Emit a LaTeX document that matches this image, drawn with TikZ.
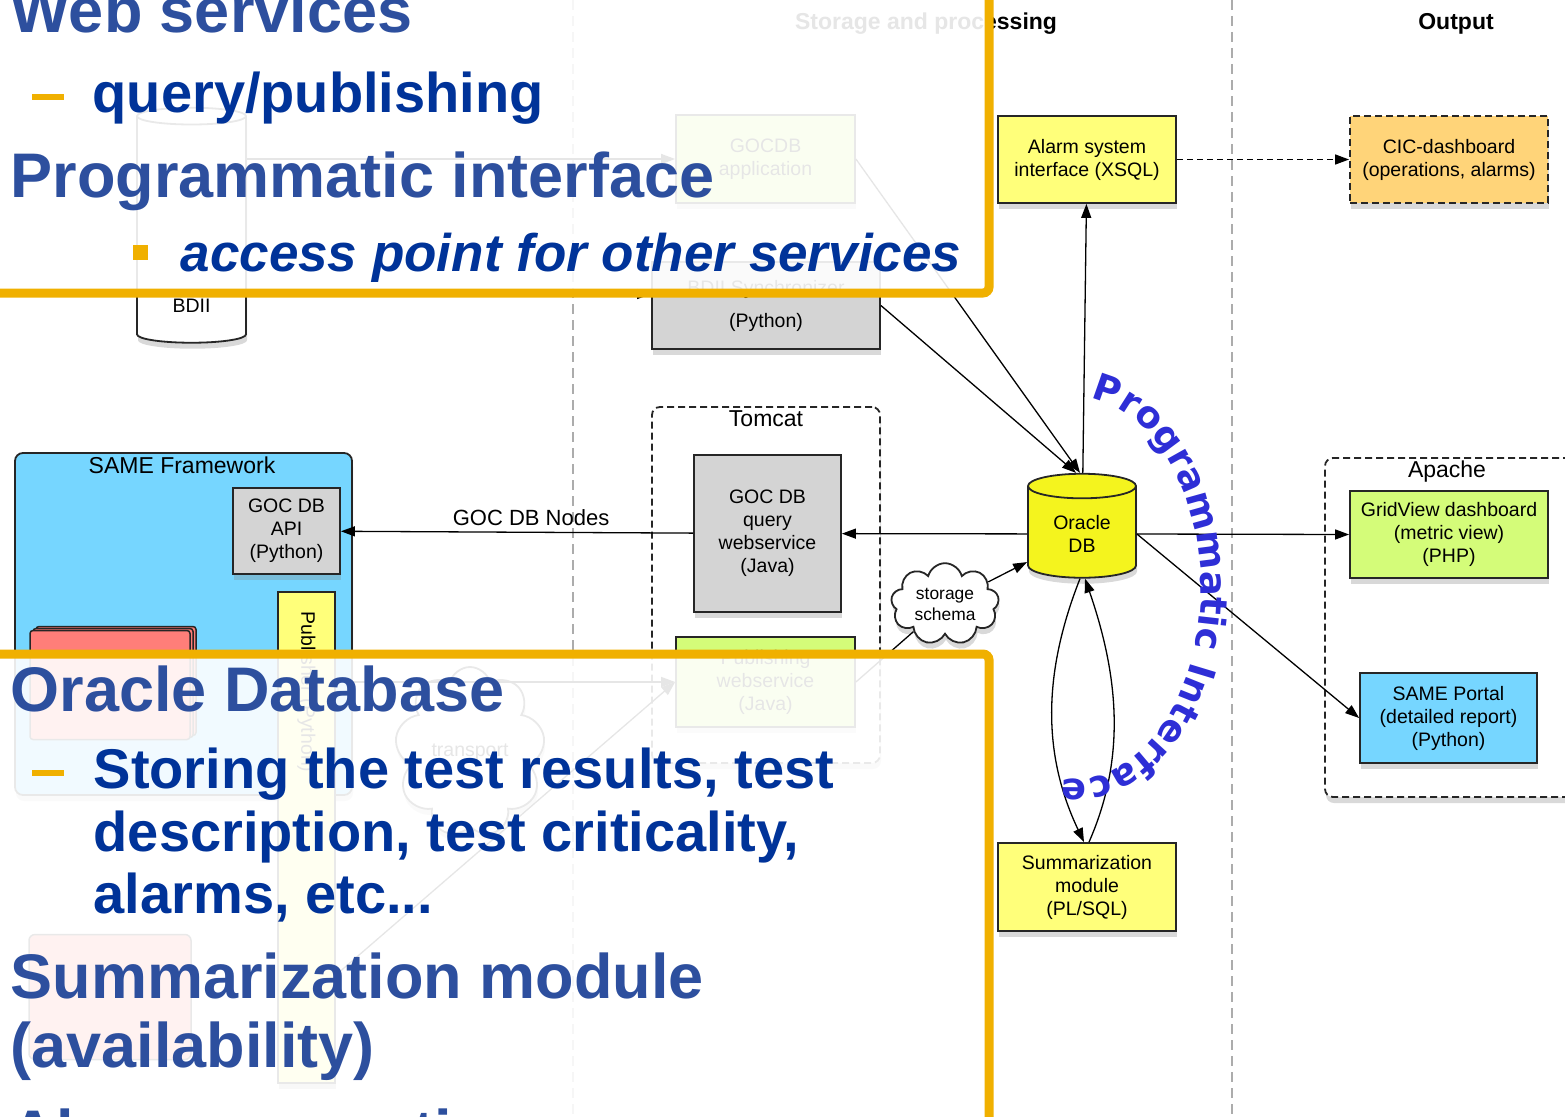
\documentclass[tikz,border=0pt]{standalone}
\usepackage{fontspec}
\setmainfont{Liberation Sans}
\newfontfamily\arcfont{DejaVu Sans}
\usepackage{xcolor}
\usetikzlibrary{shapes.geometric,shapes.symbols,shadows,decorations.text,arrows.meta}

\definecolor{slideorange}{HTML}{F0B000}
\definecolor{headblue}{HTML}{2D4F9E}
\definecolor{itemblue}{HTML}{003399}
\definecolor{arcblue}{HTML}{2E2ED6}
\definecolor{boxyellow}{HTML}{FFFF7A}
\definecolor{boxgray}{HTML}{D4D4D4}
\definecolor{boxblue}{HTML}{76D6FF}
\definecolor{boxgreen}{HTML}{D4FC79}
\definecolor{boxorange}{HTML}{FFD479}
\definecolor{boxred}{HTML}{FF7E79}
\definecolor{dbyellow}{HTML}{F4F41E}

\newcommand{\headfont}{\fontsize{63}{70}\selectfont\bfseries}
\newcommand{\itemfont}{\fontsize{56}{62}\selectfont\bfseries}
\newcommand{\subitemfont}{\fontsize{53}{60}\selectfont\bfseries\itshape}
\newcommand{\titlefont}{\fontsize{23}{26}\selectfont}

\begin{document}
\begin{tikzpicture}[
  x=1pt, y=-1pt,
  >={Triangle[length=14pt,width=10pt]}, % arrow head style
  line width=1.3pt, % line style
  font=\fontsize{19.5}{23}\selectfont
  ]

  \tikzstyle{shadowed}=[drop shadow={shadow xshift=1pt, shadow yshift=-6pt, opacity=0.3}]
  \tikzstyle{box}=[
    draw=black!85,
    line width=1.8pt,
    align=center,
    inner sep=2pt,
    shadowed
  ]
  \tikzstyle{container}=[
    draw=black!85,
    line width=1.8pt,
    dash pattern=on 7pt off 4pt,
    rounded corners=8pt,
    fill=white,
    shadowed
  ]
  \tikzstyle{db}=[box, cylinder, shape border rotate=90, aspect=0.4]
  \tikzstyle{note}=[box, cloud, cloud puffs=9, aspect=1.5, fill=white]
  \tikzstyle{column}=[draw=gray!65, line width=2.5pt, dash pattern=on 10pt off 6pt]
  \tikzstyle{cover}=[draw=slideorange, line width=9pt, fill=white, fill opacity=0.9, rounded corners=6pt]
  \tikzstyle{slidehead}=[anchor=base west, inner sep=0pt, text=headblue, font=\headfont]
  \tikzstyle{slideitem}=[anchor=base west, inner sep=0pt, text=itemblue, font=\itemfont]

\useasboundingbox (0,0) rectangle (1565,1116);
\clip (0,0) rectangle (1565,1116);

% columns
\draw[column] (573,0) -- (573,1116);
\draw[column] (1232,0) -- (1232,1116);
\node[font=\titlefont\bfseries] (hstorage) at (926,24) {Storage and processing};
\node[font=\titlefont\bfseries] (houtput) at (1456,24) {Output};

% containers
\node[box, rounded corners=8pt, fill=boxblue, minimum width=337, minimum height=342] (same) at (183.5,624) {};
\node[font=\titlefont] (sametitle) at (182,465) {SAME Framework};
\node[container, minimum width=228, minimum height=356] (tomcat) at (766,585) {};
\node[font=\titlefont] (tomcattitle) at (766,419) {Tomcat};
\node[container, minimum width=275, minimum height=339] (apache) at (1462.5,627.5) {};
\node[font=\titlefont] (apachetitle) at (1447,472) {Apache};

% left column
\node[db, fill=white, minimum width=109, minimum height=235] (bdii) at (191.5,231) {\\[140pt]BDII};
\node[box, fill=boxgray, minimum width=107, minimum height=86] (api) at (286.5,531) {GOC DB\\API\\(Python)};
\node[box, fill=boxyellow, minimum width=57, minimum height=491, shadowed] (publisher) at (306.5,837.5) {};
\node[rotate=-90, anchor=west] (publishertext) at (306.5,608) {Publisher (Python)};
\node[draw=black!85, line width=1.5pt, fill=boxred, rounded corners=3pt, minimum width=160, minimum height=109] (redback) at (116,681) {};
\node[draw=black!85, line width=1.5pt, fill=boxred, rounded corners=3pt, minimum width=160, minimum height=109] (redmid) at (113,683) {};
\node[draw=black!85, line width=1.5pt, fill=boxred, rounded corners=3pt, minimum width=160, minimum height=109] (redbox) at (110,685) {};
\node[draw=black!85, line width=1.5pt, fill=boxred, rounded corners=6pt, minimum width=162, minimum height=125] (redlow) at (110,997) {};
\node[note, minimum width=150, minimum height=170] (transport) at (470,752) {transport};

% storage and processing
\node[box, fill=boxgreen, minimum width=179, minimum height=88] (gocdbapp) at (765.5,159) {GOCDB\\application};
\node[box, fill=boxgray, minimum width=228, minimum height=87] (bdiisync) at (766,305.5) {BDII Synchronizer\\[10pt](Python)};
\node[box, fill=boxgray, minimum width=147, minimum height=157] (gocquery) at (767.5,533.5) {GOC DB\\query\\webservice\\(Java)};
\node[box, fill=boxgreen, minimum width=179, minimum height=90] (pubws) at (765.5,682) {Publishing\\webservice\\(Java)};
\node[note, minimum width=108, minimum height=72, font=\fontsize{17.4}{21}\selectfont] (schema) at (945,604) {storage\\schema};
\node[db, fill=dbyellow, minimum width=108, minimum height=104] (oracle) at (1082,534) {Oracle\\DB};
\node[box, fill=boxyellow, minimum width=178, minimum height=87] (alarm) at (1087,159.5) {Alarm system\\interface (XSQL)};
\node[box, fill=boxyellow, minimum width=178, minimum height=88] (summ) at (1087,887) {Summarization\\module\\(PL/SQL)};

% output
\node[box, fill=boxorange, dash pattern=on 7pt off 4pt, minimum width=198, minimum height=87] (cic) at (1449,159.5) {CIC-dashboard\\(operations, alarms)};
\node[box, fill=boxgreen, minimum width=198, minimum height=87] (gridview) at (1449,534.5) {GridView dashboard\\(metric view)\\(PHP)};
\node[box, fill=boxblue, minimum width=177, minimum height=90] (portal) at (1448.5,718) {SAME Portal\\(detailed report)\\(Python)};

% connectors
\path[->] (gocquery) edge node[above=3pt, pos=0.46, font=\fontsize{22}{26}\selectfont] {GOC DB Nodes} (api);
\path[->] (oracle) edge (gocquery);
\path[->] (oracle) edge (alarm);
\path[->, dash pattern=on 6pt off 4pt] (alarm) edge (cic);
\path[->] (oracle.east) edge (gridview.west);
\path[->] (oracle.east) edge (portal.west);
\path[->] (schema) edge (oracle);
\draw (pubws.east) -- (schema);
\path[->] (bdiisync.east) edge ([xshift=-6pt]oracle.north);
\path[->] (gocdbapp.east) edge ([xshift=-2pt]oracle.north);
\path[->] (bdii.east |- gocdbapp.west) edge (gocdbapp.west);
\path[->] (bdii.east |- 0,294) edge (bdiisync.west |- 0,294);
\path[->] (same.east |- pubws.west) edge (pubws.west);
\path[->] (publisher.east |- 0,975) edge (pubws.west);
\draw[->] ([xshift=-2pt]oracle.south) .. controls (1040,680) and (1045,760) .. ([xshift=-3pt]summ.north);
\draw[->] ([xshift=2pt]summ.north) .. controls (1125,760) and (1120,680) .. ([xshift=3pt]oracle.south);

% slide text boxes
\draw[cover] (-20,-20) rectangle (989,293);
\draw[cover] (-20,654) rectangle (989,1140);

\node[slidehead] (websvc) at (10,33) {Web services};
\fill[slideorange] (32,94) rectangle (64,100);
\node[slideitem] (query) at (92,112) {query/publishing};
\node[slidehead] (progif) at (10,197) {Programmatic interface};
\fill[slideorange] (133,245) rectangle (148,260);
\node[slideitem, font=\subitemfont] (access) at (180,271) {access point for other services};

\node[slidehead] (oradb) at (10,711) {Oracle Database};
\fill[slideorange] (32,770) rectangle (64,776);
\node[slideitem] (store1) at (93,788) {Storing the test results, test};
\node[slideitem] (store2) at (93,851) {description, test criticality,};
\node[slideitem] (store3) at (93,913) {alarms, etc...};
\node[slidehead] (summhead) at (10,998) {Summarization module};
\node[slidehead] (availhead) at (10,1067) {(availability)};
\node[slidehead] (alarmhead) at (10,1154) {Alarm generation};

% programmatic interface arc
\path[decorate, decoration={text along path, text align=fit to path,
  text={|\arcfont\bfseries\fontsize{37}{40}\selectfont\color{arcblue}|Programmatic Interface}}]
  (1075,588) ++(-83:126 and 191) arc[start angle=-83, end angle=96, x radius=126, y radius=191];
\end{tikzpicture}
\end{document}
